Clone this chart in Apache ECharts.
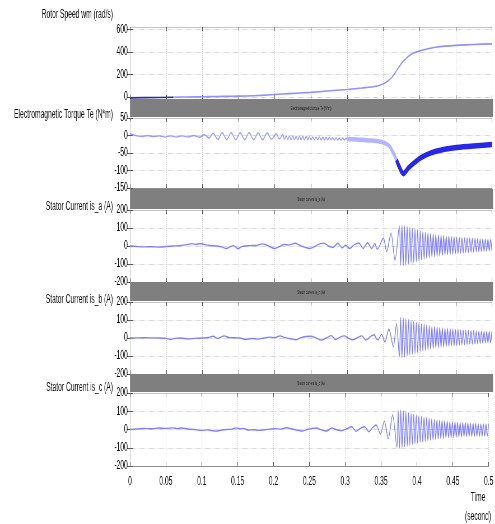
<!DOCTYPE html>
<html lang="en">
<head>
<meta charset="UTF-8">
<title>Rotor speed, torque and stator currents</title>
<script src="https://cdn.jsdelivr.net/npm/echarts@6/dist/echarts.min.js"></script>
<style>
    * { padding: 0; margin: 0; }
    html, body { width: 495px; height: 524px; overflow: hidden; background: #fff; }
    /* the original figure is squeezed sideways, so draw wide and squeeze */
    #main { width: 884px; height: 524px; transform: scaleX(0.56); transform-origin: 0 0; }
</style>
</head>
<body>
<div id="main"></div>
<script>
// ---- data ----
var timeMin = 0, timeMax = 0.5, timeStep = 0.05;
var speedTicks = [0, 200, 400, 600];

var titles = ['Rotor Speed wm (rad/s)', 'Electromagnetic Torque Te (N*m)',
    'Stator Current is_a (A)', 'Stator Current is_b (A)', 'Stator Current is_c (A)'];
var barTitles = ['Electromagnetic torque Te (N*m)', 'Stator current is_a (A)',
    'Stator current is_b (A)', 'Stator current is_c (A)'];

// rotor speed [t, rad/s]
var speedStart = [[0, -10], [0.02, -8], [0.04, -6], [0.06, -4]];
var speed = [[0.06, -4], [0.08, -2], [0.1, 0], [0.12, 2], [0.14, 4], [0.16, 7], [0.18, 12], [0.2, 20],
    [0.22, 28], [0.25, 39], [0.28, 55], [0.3, 65], [0.32, 78], [0.34, 94], [0.35, 115], [0.356, 140],
    [0.362, 175], [0.366, 210], [0.37, 250], [0.374, 288], [0.378, 320], [0.383, 350], [0.387, 372],
    [0.393, 392], [0.4, 408], [0.41, 425], [0.422, 440], [0.435, 450], [0.45, 457], [0.475, 465], [0.5, 470]];

// torque [t, N*m]
var torqueOsc = [[0, 5], [0.008, 0], [0.016, -3], [0.024, 0], [0.032, -3], [0.04, -1], [0.048, -4],
    [0.056, -1], [0.064, -4], [0.072, -1], [0.08, -4], [0.088, 0], [0.096, -5], [0.103, 2], [0.109, -7],
    [0.115, 6], [0.1212, -11], [0.1274, 8], [0.1336, -12], [0.1398, 8], [0.146, -12], [0.1522, 8],
    [0.1584, -12], [0.1646, 8], [0.1708, -12], [0.177, 7], [0.1832, -12], [0.1894, 7], [0.1956, -11],
    [0.2018, 5], [0.2065, -10], [0.211, 3],
    [0.2133, -11], [0.2156, -1], [0.2179, -11], [0.2202, -2], [0.2225, -12], [0.2248, -2], [0.2271, -12],
    [0.2294, -3], [0.2317, -12], [0.234, -3], [0.2363, -12], [0.2386, -3], [0.2409, -12], [0.2432, -3],
    [0.2455, -12], [0.2478, -4], [0.2501, -12], [0.2524, -4], [0.2547, -12], [0.257, -4], [0.2593, -12],
    [0.2616, -4], [0.2639, -12], [0.2662, -5], [0.2685, -12], [0.2708, -5], [0.2731, -12], [0.2754, -5],
    [0.2777, -12], [0.28, -6], [0.2823, -13], [0.2846, -6], [0.2869, -13], [0.2892, -7], [0.2915, -13],
    [0.2938, -7], [0.2961, -13], [0.2984, -8], [0.3007, -13]];
var torqueBandLight = [[0.3, -10], [0.31, -11], [0.32, -12], [0.33, -14], [0.34, -16], [0.35, -20],
    [0.355, -25], [0.359, -32], [0.364, -51], [0.368, -70], [0.371, -85]];
var torqueBandDark = [[0.368, -70], [0.371, -85], [0.3752, -104], [0.378, -109], [0.38, -105],
    [0.385, -92], [0.3914, -80], [0.4014, -64], [0.414, -51], [0.4328, -40], [0.4512, -34],
    [0.479, -29], [0.5, -26]];

// stator currents before the fast swing [t, A]
var isaSlow = [[0, 0], [0.01, -3], [0.02, -5], [0.03, -4], [0.04, -6], [0.05, -3], [0.06, 0], [0.07, 3],
    [0.08, 9], [0.086, 13], [0.091, 8], [0.096, 14], [0.102, 9], [0.11, 3], [0.12, 0], [0.127, -5],
    [0.133, -14], [0.139, -3], [0.143, 2], [0.149, -15], [0.155, -2], [0.165, 2], [0.175, 3], [0.183, 12],
    [0.19, 3], [0.2, -14], [0.206, -4], [0.213, 8], [0.22, 6], [0.228, 15], [0.235, 3], [0.241, -6],
    [0.248, -14], [0.255, -3], [0.262, 12], [0.268, 16], [0.274, 0], [0.28, -8], [0.287, 15], [0.293, -10],
    [0.298, 4], [0.303, -14], [0.31, 8], [0.316, 17], [0.322, -14], [0.328, 18], [0.334, -14], [0.338, 14],
    [0.3415, -18], [0.35, 43], [0.3545, -31], [0.3605, 70], [0.366, -78]];
var isbSlow = [[0, 0], [0.02, 1], [0.04, 0], [0.05, -2], [0.056, -8], [0.062, -2], [0.07, 0], [0.08, -5],
    [0.09, -2], [0.1, 0], [0.108, 3], [0.115, 10], [0.121, -2], [0.13, 12], [0.137, 2], [0.145, 1],
    [0.152, 0], [0.16, -8], [0.168, -3], [0.176, -6], [0.185, 0], [0.193, 5], [0.2, 2], [0.207, 12],
    [0.214, 2], [0.222, -4], [0.229, -10], [0.236, 2], [0.243, 8], [0.25, 10], [0.257, 0], [0.264, -12],
    [0.271, 0], [0.278, 13], [0.284, -8], [0.29, 5], [0.296, 12], [0.302, -2], [0.308, -10], [0.314, 2],
    [0.32, 12], [0.326, -12], [0.332, 8], [0.337, 18], [0.342, -12], [0.3475, 20], [0.352, -22],
    [0.3575, 50], [0.3637, -48], [0.368, 80]];
var iscSlow = [[0, 0], [0.01, 3], [0.02, 6], [0.03, 4], [0.04, 8], [0.05, 6], [0.06, 9], [0.066, 5],
    [0.072, 8], [0.08, 3], [0.09, 0], [0.1, -5], [0.108, -2], [0.114, -6], [0.12, -9], [0.128, -3],
    [0.135, 0], [0.142, 2], [0.148, 9], [0.153, 3], [0.158, 6], [0.165, -3], [0.172, -1], [0.18, -5],
    [0.188, -1], [0.195, 2], [0.203, 5], [0.21, 2], [0.218, 10], [0.225, 4], [0.232, -3], [0.24, -8],
    [0.247, 0], [0.254, 6], [0.26, 8], [0.267, -2], [0.274, -8], [0.281, 8], [0.288, -1], [0.295, -6],
    [0.302, 4], [0.309, 15], [0.315, -10], [0.321, 6], [0.327, 15], [0.333, -12], [0.338, 10],
    [0.343, 25], [0.349, -25], [0.3545, 45], [0.36, -50], [0.366, 80]];

// stator currents, fast swing after 0.372 s (peaks and troughs)
var tDense = [0.3720, 0.3738, 0.3756, 0.3774, 0.3792, 0.3810, 0.3828, 0.3846, 0.3864, 0.3882,
    0.3900, 0.3918, 0.3936, 0.3954, 0.3972, 0.3990, 0.4008, 0.4026, 0.4044, 0.4062,
    0.4080, 0.4098, 0.4116, 0.4134, 0.4152, 0.4170, 0.4188, 0.4206, 0.4224, 0.4242,
    0.4260, 0.4278, 0.4296, 0.4314, 0.4332, 0.4350, 0.4368, 0.4386, 0.4404, 0.4422,
    0.4440, 0.4458, 0.4476, 0.4494, 0.4512, 0.4530, 0.4548, 0.4566, 0.4584, 0.4602,
    0.4620, 0.4638, 0.4656, 0.4674, 0.4692, 0.4710, 0.4728, 0.4746, 0.4764, 0.4782,
    0.4800, 0.4818, 0.4836, 0.4854, 0.4872, 0.4890, 0.4908, 0.4926, 0.4944, 0.4962,
    0.4980, 0.4998];
var isaDense = [112, -106, 115, -108, 112, -106, 108, -100, 103, -95,
    97, -90, 93, -86, 89, -81, 84, -76, 80, -72,
    77, -69, 73, -66, 70, -63, 67, -60, 65, -58,
    62, -55, 60, -53, 58, -51, 56, -49, 54, -47,
    52, -45, 51, -43, 49, -42, 48, -40, 46, -38,
    45, -37, 44, -35, 43, -34, 42, -33, 41, -32,
    40, -31, 39, -30, 39, -29, 38, -28, 38, -27,
    37, -26];
var isbDense = [-104, 113, -109, 111, -105, 106, -99, 101, -94, 96,
    -89, 92, -85, 87, -80, 83, -75, 79, -71, 76,
    -68, 72, -65, 69, -62, 66, -59, 64, -57, 61,
    -54, 59, -52, 57, -50, 55, -48, 53, -46, 51,
    -44, 50, -43, 48, -41, 47, -39, 45, -38, 44,
    -36, 43, -35, 42, -34, 41, -33, 40, -32, 39,
    -31, 38, -30, 38, -29, 37, -28, 37, -27, 36,
    -27, 35];
var iscDense = [-98, 104, -102, 106, -100, 102, -95, 97, -90, 92,
    -86, 88, -82, 83, -78, 79, -74, 75, -70, 71,
    -67, 67, -64, 64, -61, 61, -58, 58, -56, 55,
    -54, 53, -52, 51, -50, 49, -48, 47, -46, 45,
    -45, 43, -44, 42, -43, 41, -42, 40, -41, 39,
    -40, 38, -39, 37, -38, 36, -38, 35, -37, 34,
    -37, 33, -36, 32, -36, 31, -36, 30, -35, 30,
    -35, 29];

// ---- layout ----
var S = 0.56;                 // sideways squeeze, see css
var W = 884;
var plotLeft = 130 / S, plotRight = 492 / S;
var FONT = '"Liberation Sans", Arial, sans-serif';
var layout = [
    { top: 27, height: 72, min: -20, max: 620, custom: speedTicks, titleY: 15 },
    { top: 118, height: 70, min: -150, max: 50, interval: 50, titleY: 115 },
    { top: 210, height: 72, min: -200, max: 200, interval: 100, titleY: 207 },
    { top: 302, height: 72, min: -200, max: 200, interval: 100, titleY: 300 },
    { top: 393, height: 73, min: -200, max: 200, interval: 100, titleY: 388 }
];
var bars = [[99, 117], [189, 209], [282, 301], [374, 392]];

function dense(vals) {
    return tDense.map(function (t, i) { return [t, vals[i]]; });
}
function fmtTime(v) {
    return String(+v.toFixed(2));
}

var grids = [], xAxes = [], yAxes = [], graphics = [];
layout.forEach(function (p, i) {
    var last = i === layout.length - 1;
    grids.push({ left: plotLeft, right: W - plotRight, top: p.top, height: p.height });
    xAxes.push({
        gridIndex: i, type: 'value', min: timeMin, max: timeMax, interval: timeStep, position: 'bottom',
        axisLine: { onZero: false, lineStyle: { color: '#8c8c8c' } },
        axisTick: { inside: true, length: 4, lineStyle: { color: '#555' } },
        axisLabel: { show: last, margin: 10, color: '#111', fontSize: 12, fontFamily: FONT, formatter: fmtTime },
        splitLine: { show: true, lineStyle: { color: '#cdcdcd', type: 'dotted' } }
    });
    xAxes.push({
        gridIndex: i, type: 'value', min: timeMin, max: timeMax, interval: timeStep, position: 'top',
        axisLine: { onZero: false, lineStyle: { color: '#c4c4c4' } },
        axisTick: { inside: true, length: 4, lineStyle: { color: '#555' } },
        axisLabel: { show: false }, splitLine: { show: false }
    });
    var yl = {
        gridIndex: i, type: 'value', min: p.min, max: p.max, position: 'left',
        axisLine: { show: true, lineStyle: { color: '#8c8c8c' } },
        axisTick: { show: true, inside: true, length: 5, lineStyle: { color: '#555' } },
        axisLabel: { margin: 4, color: '#111', fontSize: 12, fontFamily: FONT },
        splitLine: { show: true, lineStyle: { color: '#cdcdcd', type: 'dotted' } }
    };
    var yr = {
        gridIndex: i, type: 'value', min: p.min, max: p.max, position: 'right',
        axisLine: { show: true, lineStyle: { color: '#c4c4c4' } },
        axisTick: { show: true, inside: true, length: 5, lineStyle: { color: '#555' } },
        axisLabel: { show: false }, splitLine: { show: false }
    };
    if (p.custom) {
        yl.axisLabel.customValues = p.custom; yl.axisTick.customValues = p.custom;
        yr.axisTick.customValues = p.custom;
    } else {
        yl.interval = p.interval; yr.interval = p.interval;
    }
    yAxes.push(yl, yr);
    graphics.push({
        type: 'text', z: 20, x: 113 / S, y: p.titleY,
        style: { text: titles[i], font: '12px ' + FONT, fill: '#111', align: 'right', verticalAlign: 'middle' }
    });
});

bars.forEach(function (b, i) {
    graphics.push({
        type: 'rect', z: 10, shape: { x: plotLeft, y: b[0], width: 493 / S - plotLeft, height: b[1] - b[0] },
        style: { fill: '#7f7f7f' }
    });
    graphics.push({
        type: 'text', z: 11, x: 311 / S, y: (b[0] + b[1]) / 2 + 1,
        style: { text: barTitles[i], font: '5px ' + FONT, fill: '#1a1a1a', align: 'center', verticalAlign: 'middle' }
    });
});
graphics.push({
    type: 'text', z: 20, x: 478 / S, y: 498,
    style: { text: 'Time', font: '12px ' + FONT, fill: '#111', align: 'center', verticalAlign: 'middle' }
});
graphics.push({
    type: 'text', z: 20, x: 478 / S, y: 517,
    style: { text: '(second)', font: '12px ' + FONT, fill: '#111', align: 'center', verticalAlign: 'middle' }
});

function line(panel, data, color, width, smooth) {
    return {
        type: 'line', xAxisIndex: panel * 2, yAxisIndex: panel * 2, data: data,
        symbol: 'none', silent: true, smooth: smooth || false, lineStyle: { color: color, width: width }
    };
}

var chart = echarts.init(document.getElementById('main'));
chart.setOption({
    animation: false,
    grid: grids,
    xAxis: xAxes,
    yAxis: yAxes,
    graphic: graphics,
    series: [
        line(0, speedStart, '#2b2b9a', 1.6),
        line(0, speed, '#9090ff', 1.6, 0.3),
        line(1, torqueOsc, '#9a9aff', 1.4, 0.4),
        line(1, torqueBandLight, '#b4b4ff', 4.5, 0.3),
        line(1, torqueBandDark, '#2828e6', 5.5, 0.3),
        line(2, isaSlow.concat(dense(isaDense)), '#8080ff', 1.4, 0.3),
        line(3, isbSlow.concat(dense(isbDense)), '#8080ff', 1.4, 0.3),
        line(4, iscSlow.concat(dense(iscDense)), '#8080ff', 1.4, 0.3)
    ]
});
</script>
</body>
</html>
